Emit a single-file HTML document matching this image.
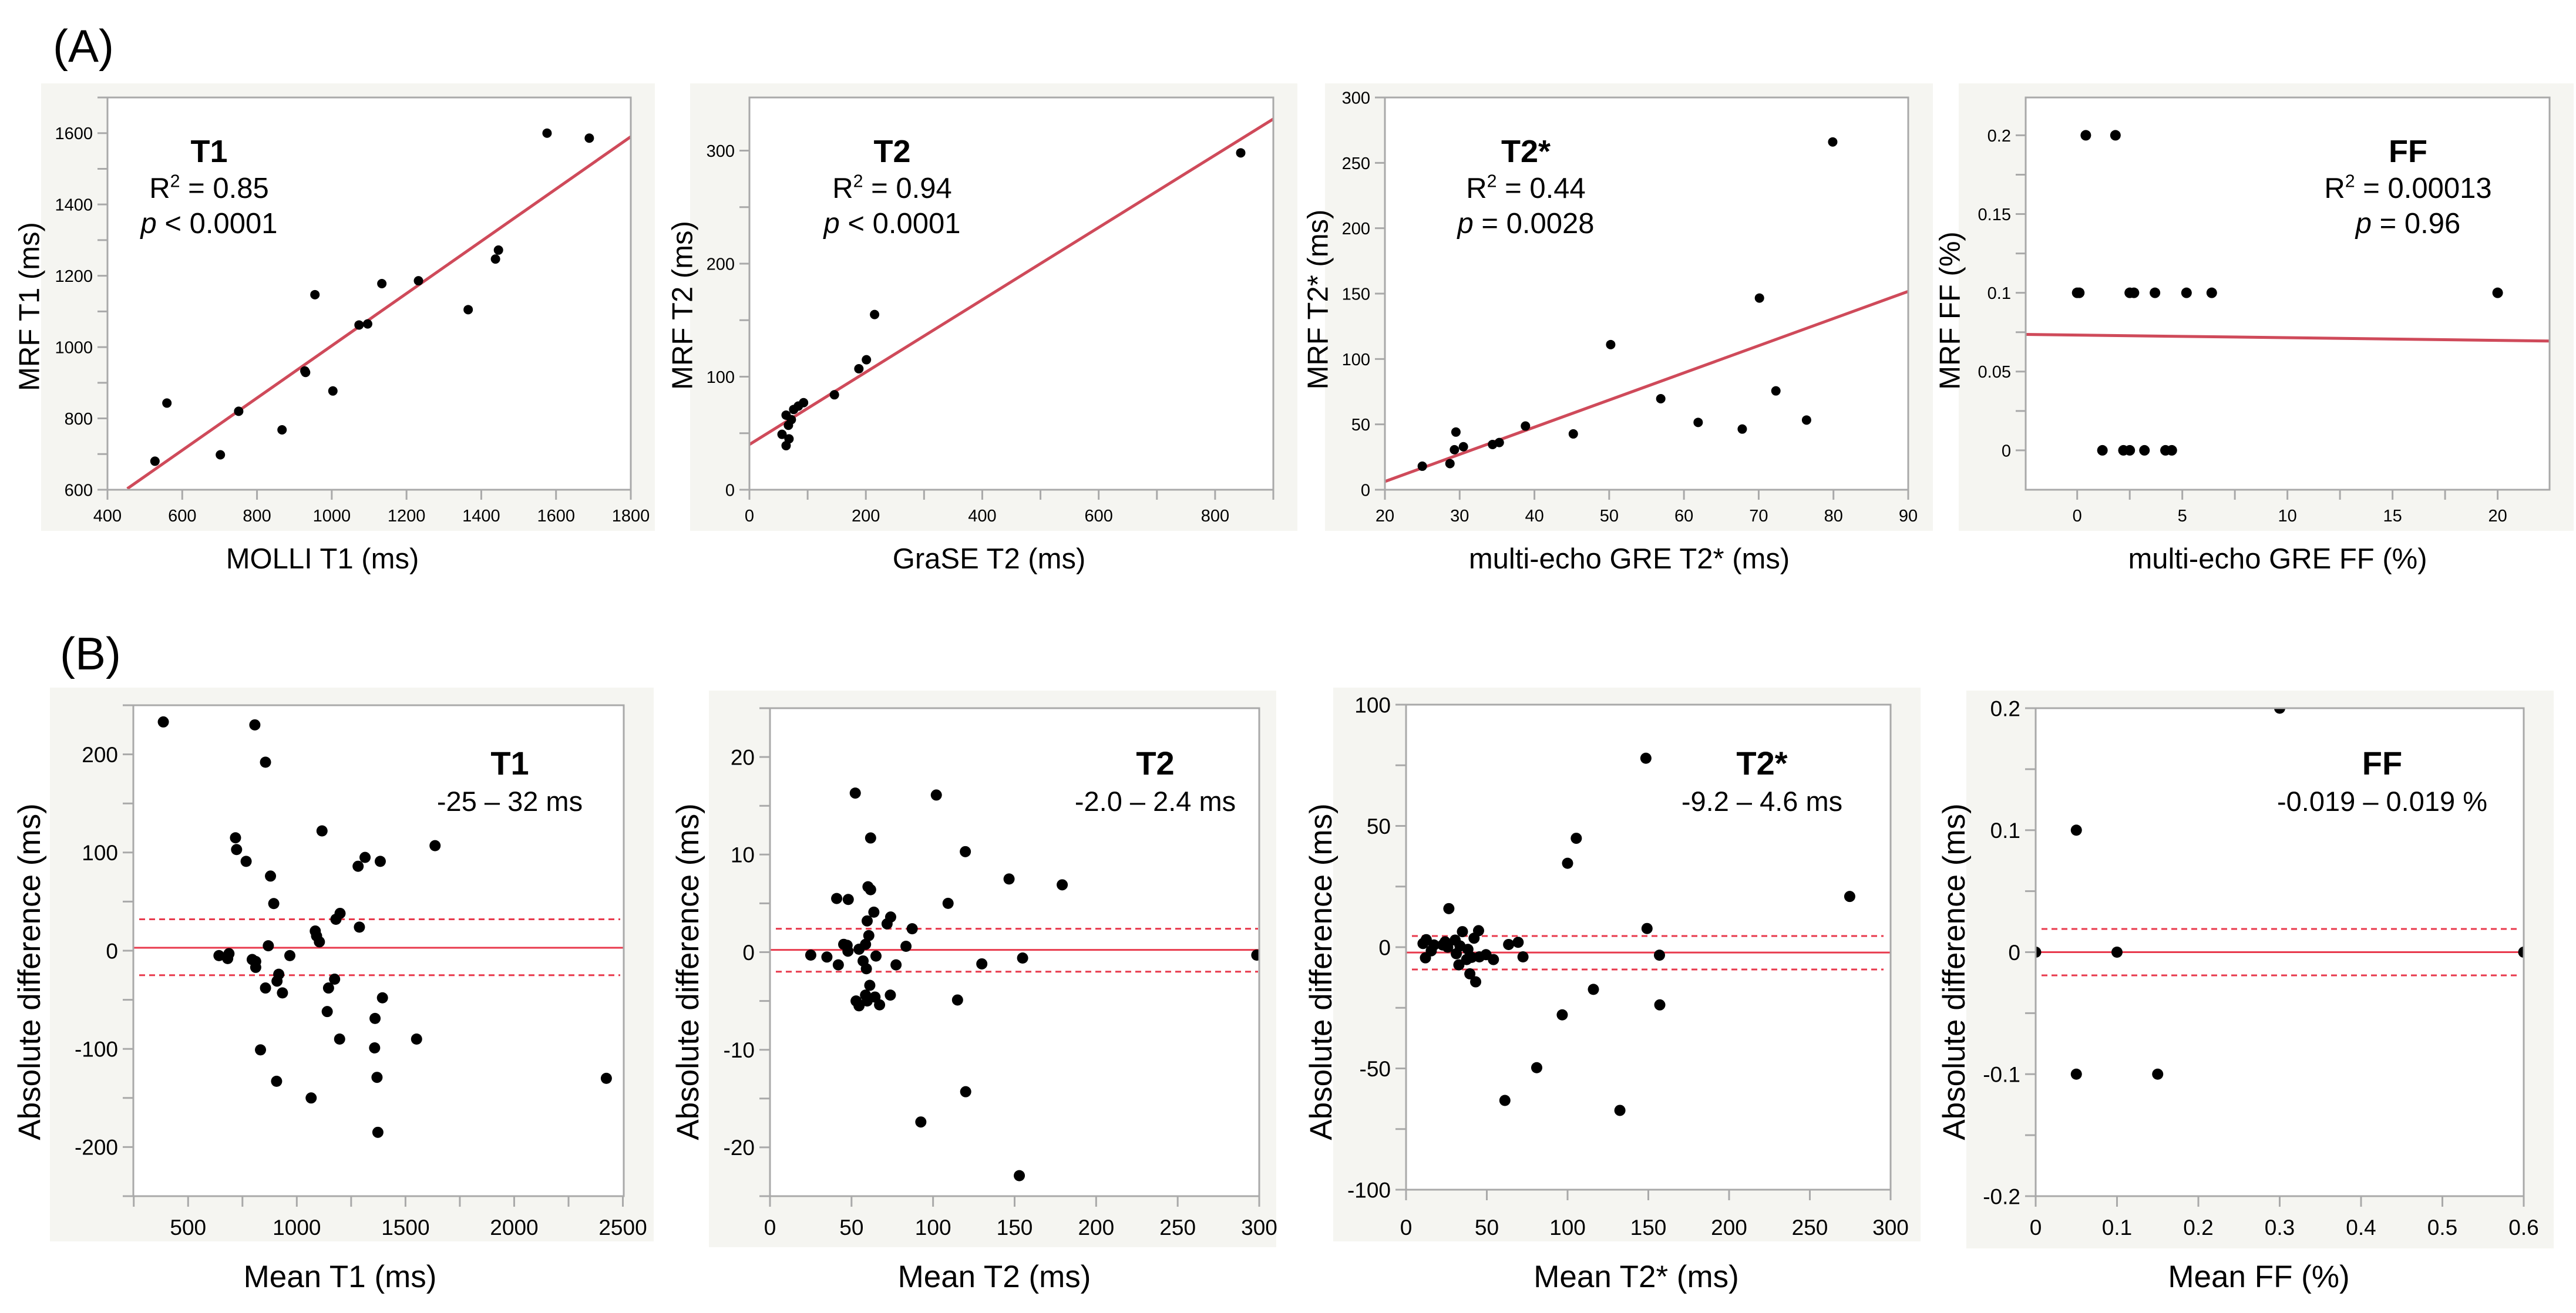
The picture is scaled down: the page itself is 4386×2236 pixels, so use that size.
<!DOCTYPE html>
<html><head><meta charset="utf-8"><title>MRF vs reference agreement</title>
<style>
html,body{margin:0;padding:0;background:#fff;}
svg{display:block;font-family:"Liberation Sans",Arial,sans-serif;}
</style></head>
<body>
<svg id="fig" xmlns="http://www.w3.org/2000/svg" width="4386" height="2236" viewBox="0 0 4386 2236">
<text x="90" y="105" font-size="78">(A)</text>
<text x="102" y="1140" font-size="78">(B)</text>
</svg>
<script>
// ---------- Data: (A) correlation scatter ----------
const t1RefX = [1576,1689,1446,1438,1134,1232,955,1365,1073,1096,928,930,1003,559,751,867,702,527];
const t1MrfY = [1600,1586,1272,1247,1178,1186,1147,1105,1062,1065,933,929,877,843,820,768,698,680];
const t1Fit = [453,603,1800,1590];

const t2RefX = [844,215,201,188,146,93,84,76,63,72,67,56,68,63];
const t2MrfY = [298,155,115,107,84,77,74,71,66,62,57,49,45,39];
const t2Fit = [0,40,900,328];

const t2sRefX = [79.9,70.1,50.2,56.9,72.3,61.9,67.8,76.4,45.2,38.8,29.5,29.3,30.5,34.4,35.3,28.7,25.0];
const t2sMrfY = [266,146.6,111,69.6,75.6,51.5,46.4,53.3,42.7,48.7,44.1,30.6,32.9,34.6,36.1,20,18];
const t2sFit = [20,6.3,90,151.7];

const ffRefX = [0.41,1.82,0,0.1,2.5,2.7,3.7,5.2,6.4,20,1.2,2.2,2.5,3.2,4.2,4.5];
const ffMrfY = [0.2,0.2,0.1,0.1,0.1,0.1,0.1,0.1,0.1,0.1,0,0,0,0,0,0];
const ffFit = [-2.45,0.0736,22.47,0.0694];

// ---------- Data: (B) Bland-Altman ----------
const baT1Mean = [386,807,856,718,723,767,1116,879,894,1636,1314,1282,1384,1199,1180,1288,1085,1091,1104,869,642,688,682,968,795,811,811,917,909,856,934,1174,1146,1394,1140,1360,1197,1551,833,1358,907,1369,2424,1066,1373];
const baT1Diff = [233,230,192,115,103,91,122,76,48,107,95,86,91,38,32,24,20,15,9,5,-5,-3,-8,-5,-9,-11,-17,-24,-31,-38,-43,-29,-38,-48,-62,-69,-90,-90,-101,-99,-133,-129,-130,-150,-185];
const baT1Lines = [3,32,-25];

const baT2Mean = [52.3,102,61.7,119.8,146.6,179.2,60.1,61.7,40.9,48,109.2,63.7,74,59.6,71.8,87.2,60.6,45.2,47.3,58.6,83.4,54.6,47.8,25,34.9,65,154.9,298.5,57.1,41.9,59.1,77.3,129.9,61.2,73.8,58.6,64.4,52.8,59.6,54.6,67.2,115,120,92.5,152.9];
const baT2Diff = [16.3,16.1,11.7,10.3,7.5,6.9,6.7,6.4,5.5,5.4,5.0,4.1,3.6,3.2,2.9,2.4,1.7,0.8,0.7,0.8,0.6,0.3,0.1,-0.3,-0.5,-0.4,-0.6,-0.3,-0.9,-1.3,-1.7,-1.3,-1.2,-3.4,-4.4,-4.4,-4.6,-5.0,-5.0,-5.5,-5.4,-4.9,-14.3,-17.4,-22.9];
const baT2Lines = [0.23,2.4,-2.0];

const baT2sMean = [148.5,105.4,100,274.7,26.5,149.2,44.9,34.9,42.1,30.4,24.2,12.5,10.5,17.3,22.7,33.4,25.8,63.5,69.4,38.3,15.6,31.1,49.5,156.9,45.4,72.4,40.6,37.5,12,54.1,32.7,39.5,43.1,116,96.7,157.1,80.9,61.2,132.4];
const baT2sDiff = [77.9,44.9,34.6,20.9,15.9,7.7,6.8,6.4,3.7,2.9,2.2,3.1,1.5,0.9,0.9,0.5,0,1.1,2.0,-0.9,-1.5,-2.7,-3.1,-3.3,-4.0,-4.0,-4.2,-5.1,-4.4,-5.1,-7.3,-11,-14.3,-17.4,-27.9,-23.8,-49.7,-63.2,-67.3];
const baT2sLines = [-2.2,4.6,-9.2];

const baFFMean = [0.3,0.05,0.1,0,0.6,0.05,0.15];
const baFFDiff = [0.2,0.1,0,0,0,-0.1,-0.1];
const baFFLines = [0,0.019,-0.019];

// ---------- Tick labels ----------
const t1XTicks = [400,600,800,1000,1200,1400,1600,1800];
const t1YTicks = [600,800,1000,1200,1400,1600];
const t2XTicks = [0,200,400,600,800];
const t2YTicks = [0,100,200,300];
const t2sXTicks = [20,30,40,50,60,70,80,90];
const t2sYTicks = [0,50,100,150,200,250,300];
const ffXTicks = [0,5,10,15,20];
const ffYTicks = [0,0.05,0.1,0.15,0.2];
const ffYLabels = ["0","0.05","0.1","0.15","0.2"];
const baT1XTicks = [500,1000,1500,2000,2500];
const baT1YTicks = [-200,-100,0,100,200];
const baT2XTicks = [0,50,100,150,200,250,300];
const baT2YTicks = [-20,-10,0,10,20];
const baT2sXTicks = [0,50,100,150,200,250,300];
const baT2sYTicks = [-100,-50,0,50,100];
const baFFXTicks = [0,0.1,0.2,0.3,0.4,0.5,0.6];
const baFFYTicks = [-0.2,-0.1,0,0.1,0.2];

const NS = "http://www.w3.org/2000/svg";
const svg = document.getElementById('fig');
function mk(tag, attrs, parent){
  const e = document.createElementNS(NS, tag);
  for (const k in attrs) e.setAttribute(k, attrs[k]);
  (parent||svg).appendChild(e);
  return e;
}
const FRAME = "#a9a9a9", RED_A = "#cf4a5a", RED_B = "#e8394c";

function panel(p){
  const g = mk('g', {});
  
  
  const bg = mk('rect', {x:p.bg[0], y:p.bg[1], width:p.bg[2]-p.bg[0], height:p.bg[3]-p.bg[1], fill:'#f5f5f1'}, g);
  
  
  const [L,T,R,B] = p.frame;
  const pa = mk('rect', {x:L, y:T, width:R-L, height:B-T, fill:'#fff'}, g);
  
  
  const sx = v => L + (v - p.xr[0]) / (p.xr[1]-p.xr[0]) * (R-L);
  const sy = v => B - (v - p.yr[0]) / (p.yr[1]-p.yr[0]) * (B-T);
  if (p.xMinor) for (let v = p.xMinor[0]; v <= p.xr[1]+1e-9; v += p.xMinor[1]) {
    const t = mk('line', {x1:sx(v), x2:sx(v), y1:B, y2:B+p.tick, stroke:FRAME, 'stroke-width':3}, g);
     
  }
  if (p.yMinor) for (let v = p.yMinor[0]; v <= p.yr[1]+1e-9; v += p.yMinor[1]) {
    const t = mk('line', {x1:L-p.tick, x2:L, y1:sy(v), y2:sy(v), stroke:FRAME, 'stroke-width':3}, g);
     
  }
  p.xt.forEach((v,i) => {
    const t = mk('line', {x1:sx(v), x2:sx(v), y1:B, y2:B+p.tick, stroke:FRAME, 'stroke-width':3}, g);
     
    const lb = mk('text', {x:sx(v), y:p.xLabY, 'font-size':p.tickFont, 'text-anchor':'middle'}, g);
    lb.textContent = p.xtl ? p.xtl[i] : String(v);
     
  });
  p.yt.forEach((v,i) => {
    const t = mk('line', {x1:L-p.tick, x2:L, y1:sy(v), y2:sy(v), stroke:FRAME, 'stroke-width':3}, g);
     
    const lb = mk('text', {x:L-p.tick-8, y:sy(v)+p.tickFont*0.36, 'font-size':p.tickFont, 'text-anchor':'end'}, g);
    lb.textContent = p.ytl ? p.ytl[i] : String(v);
     
  });
  const pad = p.clipPad;
  const clip = mk('clipPath', {id:'c'+p.name}, g);
  mk('rect', {x:L, y:T-pad, width:R-L+pad, height:B-T+pad}, clip);
  const inner = mk('g', {'clip-path':'url(#c'+p.name+')'}, g);
  if (p.fit) {
    const f = p.fit;
    const ln = mk('line', {x1:sx(f[0]), y1:sy(f[1]), x2:sx(f[2]), y2:sy(f[3]), stroke:RED_A, 'stroke-width':5}, inner);
     
  }
  if (p.ba) {
    const m = mk('line', {x1:L, x2:R, y1:sy(p.ba[0]), y2:sy(p.ba[0]), stroke:RED_B, 'stroke-width':3}, inner);
     
    const u = mk('line', {x1:L+10, x2:R-p.dashEnd, y1:sy(p.ba[1]), y2:sy(p.ba[1]), stroke:RED_B, 'stroke-width':3, 'stroke-dasharray':'10 7'}, inner);
     
    const lo = mk('line', {x1:L+10, x2:R-p.dashEnd, y1:sy(p.ba[2]), y2:sy(p.ba[2]), stroke:RED_B, 'stroke-width':3, 'stroke-dasharray':'10 7'}, inner);
     
  }
  p.xs.forEach((v,i) => {
    const c = mk('circle', {cx:sx(v), cy:sy(p.ys[i]), r:p.r, fill:'#000'}, inner);
     
  });
  const fr = mk('rect', {x:L, y:T, width:R-L, height:B-T, fill:'none', stroke:FRAME, 'stroke-width':3}, g);
   
  const xt = mk('text', {x:p.xTitle[0], y:p.xTitle[1], 'font-size':p.titleFont, 'text-anchor':'middle'}, g);
  xt.textContent = p.xTitle[2];
   
  const yt = mk('text', {x:0, y:0, 'font-size':p.titleFont, 'text-anchor':'middle', transform:'translate('+(p.yTitle[0]+p.titleFont*0.36)+','+p.yTitle[1]+') rotate(-90)'}, g);
  yt.textContent = p.yTitle[2];
   
  p.ann.forEach(a => {
    const t = mk('text', {x:a.x, y:a.y, 'font-size':a.fs, 'text-anchor':'middle', 'font-weight':a.bold?'bold':'normal'}, g);
     
    if (a.p) {
      const s1 = mk('tspan', {'font-style':'italic'}, t); s1.textContent = 'p';
      const s2 = mk('tspan', {}, t); s2.textContent = a.text;
    } else if (a.r2) {
      const s1 = mk('tspan', {}, t); s1.textContent = 'R';
      const s2 = mk('tspan', {'font-size':a.fs*0.62, dy:-a.fs*0.38}, t); s2.textContent = '2';
      const s3 = mk('tspan', {dy:a.fs*0.38}, t); s3.textContent = a.text;
    } else t.textContent = a.text;
  });
}
function annA(cx, title, r2, ptxt){
  return [
    {name:'annotation-title', x:cx, y:276, fs:54, bold:true, text:title},
    {name:'annotation-r2', x:cx, y:337, fs:49, r2:true, text:' = '+r2},
    {name:'annotation-p', x:cx, y:397, fs:49, p:true, text:ptxt}
  ];
}
function annB(cx, title, range){
  return [
    {name:'annotation-title', x:cx, y:1319, fs:56, bold:true, text:title},
    {name:'annotation-limits', x:cx, y:1381, fs:47, text:range}
  ];
}
const A = {tick:17, tickFont:29, titleFont:49, xLabY:888, r:8, clipPad:12};
const Bc = {tick:18, tickFont:37, titleFont:53, xLabY:2103, r:9.5, dashEnd:12, clipPad:0};

panel(Object.assign({}, A, {name:'chart-a-t1', bg:[70,142,1115,904], frame:[183,166,1074,834], xr:[400,1800], yr:[600,1700],
  xt:t1XTicks, yt:t1YTicks, yMinor:[700,200], xs:t1RefX, ys:t1MrfY, fit:t1Fit,
  xTitle:[549,968,'MOLLI T1 (ms)'], yTitle:[49,522,'MRF T1 (ms)'], ann:annA(356,'T1','0.85',' < 0.0001')}));
panel(Object.assign({}, A, {name:'chart-a-t2', bg:[1175,142,2209,904], frame:[1276,166,2168,834], xr:[0,900], yr:[0,347],
  xt:t2XTicks, yt:t2YTicks, xMinor:[100,200], yMinor:[50,100], xs:t2RefX, ys:t2MrfY, fit:t2Fit,
  xTitle:[1684,968,'GraSE T2 (ms)'], yTitle:[1161,520,'MRF T2 (ms)'], ann:annA(1519,'T2','0.94',' < 0.0001')}));
panel(Object.assign({}, A, {name:'chart-a-t2star', bg:[2256,142,3291,904], frame:[2358,166,3249,834], xr:[20,90], yr:[0,300],
  xt:t2sXTicks, yt:t2sYTicks, xs:t2sRefX, ys:t2sMrfY, fit:t2sFit,
  xTitle:[2774,968,'multi-echo GRE T2* (ms)'], yTitle:[2243,510,'MRF T2* (ms)'], ann:annA(2598,'T2*','0.44',' = 0.0028')}));
panel(Object.assign({}, A, {name:'chart-a-ff', bg:[3335,142,4382,904], frame:[3449,166,4341,834], xr:[-2.45,22.47], yr:[-0.025,0.224],
  xt:ffXTicks, yt:ffYTicks, ytl:ffYLabels, xMinor:[2.5,5], yMinor:[0.025,0.05], xs:ffRefX, ys:ffMrfY, fit:ffFit, r:9,
  xTitle:[3878,968,'multi-echo GRE FF (%)'], yTitle:[3319,529,'MRF FF (%)'], ann:annA(4100,'FF','0.00013',' = 0.96')}));

panel(Object.assign({}, Bc, {name:'chart-b-t1', bg:[85,1171,1113,2114], frame:[227,1201,1062,2037], xr:[248,2504], yr:[-250,250],
  xt:baT1XTicks, yt:baT1YTicks, xMinor:[250,500], yMinor:[-250,100], xs:baT1Mean, ys:baT1Diff, ba:baT1Lines, dashEnd:6,
  xTitle:[579,2192,'Mean T1 (ms)'], yTitle:[49,1655,'Absolute difference (ms)'], ann:annB(868,'T1','-25 – 32 ms')}));
panel(Object.assign({}, Bc, {name:'chart-b-t2', bg:[1207,1176,2173,2124], frame:[1311,1206,2144,2037], xr:[0,300], yr:[-25,25],
  xt:baT2XTicks, yt:baT2YTicks, yMinor:[-25,10], xs:baT2Mean, ys:baT2Diff, ba:baT2Lines, dashEnd:2,
  xTitle:[1693,2192,'Mean T2 (ms)'], yTitle:[1170,1655,'Absolute difference (ms)'], ann:annB(1967,'T2','-2.0 – 2.4 ms')}));
panel(Object.assign({}, Bc, {name:'chart-b-t2star', bg:[2270,1171,3270,2114], frame:[2394,1200,3219,2026], xr:[0,300], yr:[-100,100],
  xt:baT2sXTicks, yt:baT2sYTicks, yMinor:[-75,50], xs:baT2sMean, ys:baT2sDiff, ba:baT2sLines, dashEnd:12,
  xTitle:[2786,2192,'Mean T2* (ms)'], yTitle:[2248,1655,'Absolute difference (ms)'], ann:annB(3000,'T2*','-9.2 – 4.6 ms')}));
panel(Object.assign({}, Bc, {name:'chart-b-ff', bg:[3348,1176,4348,2126], frame:[3466,1206,4297,2037], xr:[0,0.6], yr:[-0.2,0.2],
  xt:baFFXTicks, yt:baFFYTicks, yMinor:[-0.15,0.1], xs:baFFMean, ys:baFFDiff, ba:baFFLines, dashEnd:12,
  xTitle:[3846,2192,'Mean FF (%)'], yTitle:[3326,1655,'Absolute difference (ms)'], ann:annB(4056,'FF','-0.019 – 0.019 %')}));
</script>
</body></html>
